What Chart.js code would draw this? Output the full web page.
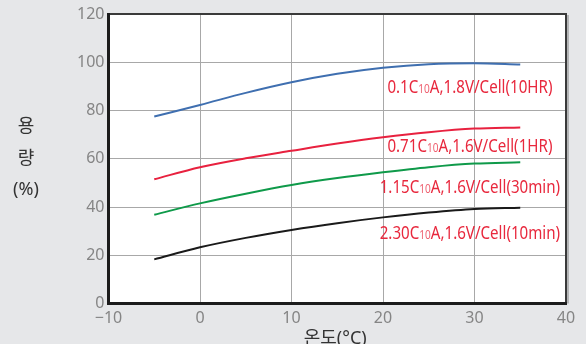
<!DOCTYPE html>
<html>
<head>
<meta charset="utf-8">
<script src="https://cdn.jsdelivr.net/npm/chart.js@4/dist/chart.umd.min.js"></script>
<style>
  html, body { margin: 0; padding: 0; background: #e6e7e9; }
  #wrap { position: relative; width: 586px; height: 344px; }
</style>
</head>
<body>
<div id="wrap"><canvas id="c" width="586" height="344"></canvas></div>
<script>
// Temperature (°C) at which capacity was measured
const temps = [-5, 0, 5, 10, 15, 20, 25, 30, 35];

// Capacity (%) for each discharge rate
const cap10hr  = [77.5, 82.3, 87.3, 91.7, 95.2, 97.7, 99.2, 99.6, 99.1];
const cap1hr   = [51.5, 56.5, 60.2, 63.3, 66.3, 68.9, 71.0, 72.5, 73.0];
const cap30min = [36.8, 41.5, 45.5, 49.1, 52.0, 54.4, 56.5, 58.0, 58.5];
const cap10min = [18.3, 23.3, 27.2, 30.5, 33.3, 35.7, 37.7, 39.2, 39.7];

// Curve labels: [before subscript, subscript, after subscript]
const curveLabels = [
  ["0.1C", "10", "A,1.8V/Cell(10HR)"],
  ["0.71C", "10", "A,1.6V/Cell(1HR)"],
  ["1.15C", "10", "A,1.6V/Cell(30min)"],
  ["2.30C", "10", "A,1.6V/Cell(10min)"]
];

const xTicks = [-10, 0, 10, 20, 30, 40];
const yTicks = [0, 20, 40, 60, 80, 100, 120];

const yTitle = ["용", "량", "(%)"];
const xTitle = "온도(°C)";

const pts = (ys) => temps.map((t, i) => ({ x: t, y: ys[i] }));

const lineStyle = (color) => ({
  borderColor: color,
  borderWidth: 2,
  pointRadius: 0,
  fill: false,
  cubicInterpolationMode: 'monotone'
});

const FONT = "'Noto Sans', 'Noto Sans CJK KR', sans-serif";

// White plot background plus framing lines
const plotFrame = {
  id: 'plotFrame',
  beforeDraw(chart) {
    const { ctx, chartArea: a } = chart;
    ctx.save();
    ctx.fillStyle = '#ffffff';
    ctx.fillRect(a.left, a.top, a.right - a.left, a.bottom - a.top);
    ctx.restore();
  },
  afterDraw(chart) {
    const { ctx, chartArea: a } = chart;
    ctx.save();
    // top and right edges
    ctx.strokeStyle = '#3a3a3a';
    ctx.lineWidth = 2;
    ctx.beginPath();
    ctx.moveTo(a.left, a.top);
    ctx.lineTo(a.right, a.top);
    ctx.lineTo(a.right, a.bottom);
    ctx.stroke();
    ctx.strokeStyle = 'rgba(120,120,120,0.45)';
    ctx.lineWidth = 2;
    ctx.beginPath();
    ctx.moveTo(a.right + 2, a.top + 1);
    ctx.lineTo(a.right + 2, a.bottom);
    ctx.stroke();
    // left and bottom axes
    ctx.strokeStyle = '#1c1c1c';
    ctx.lineWidth = 3;
    ctx.beginPath();
    ctx.moveTo(a.left, a.top - 1);
    ctx.lineTo(a.left, a.bottom);
    ctx.lineTo(a.right + 1, a.bottom);
    ctx.stroke();
    ctx.restore();
  }
};

// Axis titles and the red curve labels
const textLayer = {
  id: 'textLayer',
  afterDraw(chart, args, opts) {
    const { ctx, scales: { x, y } } = chart;
    ctx.save();
    ctx.fillStyle = '#333333';
    ctx.font = `18px ${FONT}`;
    ctx.textAlign = 'center';
    ctx.textBaseline = 'middle';
    opts.yTitleRows.forEach((row, i) => ctx.fillText(row, 26, 127 + i * 31.5));
    ctx.fillText(xTitle, (x.left + x.right) / 2 - 2, 339);

    const mainFont = `18px ${FONT}`;
    const subFont = `12px ${FONT}`;
    const widthOf = (parts) => {
      ctx.font = mainFont; let w = ctx.measureText(parts[0]).width + ctx.measureText(parts[2]).width;
      ctx.font = subFont; w += ctx.measureText(parts[1]).width;
      return w;
    };
    const sx = opts.firstWidth / widthOf(curveLabels[0]);
    ctx.textAlign = 'left';
    ctx.textBaseline = 'alphabetic';
    curveLabels.forEach((parts, i) => {
      const [ax, ay] = opts.anchors[i];
      const cx = x.getPixelForValue(ax);
      const cy = y.getPixelForValue(ay);
      const w = widthOf(parts) * sx;
      ctx.save();
      ctx.translate(cx - w / 2, cy + 6.5);
      ctx.scale(sx, 1);
      ctx.fillStyle = '#e8283d';
      ctx.font = mainFont;
      ctx.fillText(parts[0], 0, 0);
      let px = ctx.measureText(parts[0]).width;
      ctx.font = subFont;
      ctx.fillStyle = '#ee6070';
      ctx.fillText(parts[1], px, 0);
      px += ctx.measureText(parts[1]).width;
      ctx.font = mainFont;
      ctx.fillStyle = '#e8283d';
      ctx.fillText(parts[2], px, 0);
      ctx.restore();
    });
    ctx.restore();
  }
};

new Chart(document.getElementById('c'), {
  type: 'line',
  data: {
    datasets: [
      { data: pts(cap10hr),  ...lineStyle('#3f6fb0') },
      { data: pts(cap1hr),   ...lineStyle('#e8213f') },
      { data: pts(cap30min), ...lineStyle('#0f9a4a') },
      { data: pts(cap10min), ...lineStyle('#1a1a1a') }
    ]
  },
  options: {
    responsive: false,
    animation: false,
    events: [],
    layout: { padding: { left: 0, top: 14, right: 20, bottom: 0 } },
    plugins: {
      legend: { display: false },
      tooltip: { enabled: false },
      textLayer: {
        yTitleRows: yTitle,
        firstWidth: 165,
        anchors: [[29.5, 89.9], [29.5, 65.3], [29.5, 48.7], [29.5, 29.6]]
      }
    },
    scales: {
      x: {
        type: 'linear',
        min: xTicks[0],
        max: xTicks[xTicks.length - 1],
        afterBuildTicks: (s) => { s.ticks = xTicks.map(v => ({ value: v })); },
        afterFit: (s) => { s.height = 40.5; },
        grid: { color: '#a8a8a8', lineWidth: 1, drawTicks: false },
        border: { display: false },
        ticks: {
          color: '#858585',
          font: { family: FONT, size: 16 },
          padding: 5,
          maxRotation: 0,
          callback: (v) => (v < 0 ? '\u2212' + Math.abs(v) : String(v))
        }
      },
      y: {
        min: yTicks[0],
        max: yTicks[yTicks.length - 1],
        afterBuildTicks: (s) => { s.ticks = yTicks.map(v => ({ value: v })); },
        afterFit: (s) => { s.width = 108.5; },
        grid: { color: '#a8a8a8', lineWidth: 1, drawTicks: false },
        border: { display: false },
        ticks: {
          color: '#858585',
          font: { family: FONT, size: 16 },
          padding: 4
        }
      }
    }
  },
  plugins: [plotFrame, textLayer]
});
</script>
</body>
</html>
